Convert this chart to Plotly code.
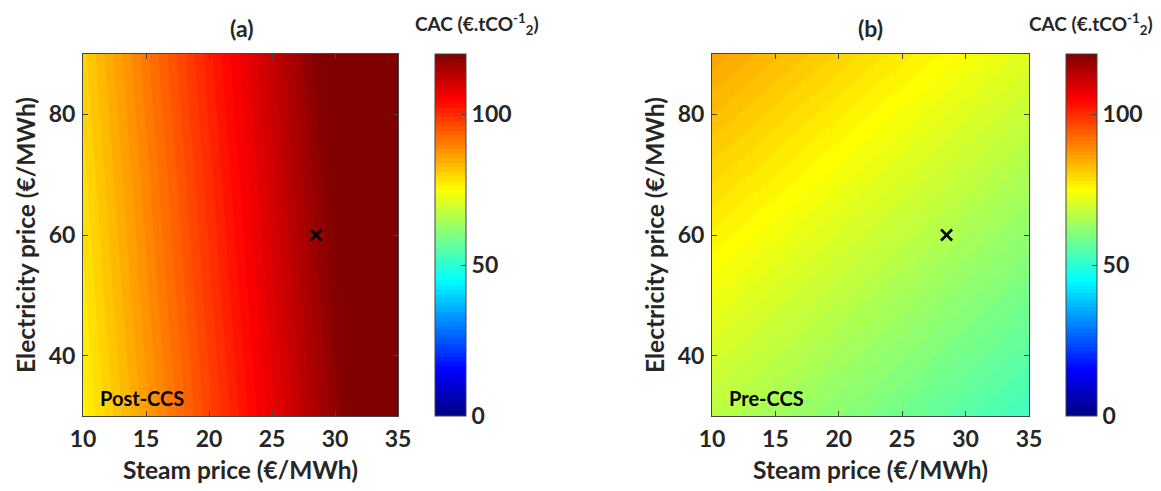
import plotly.graph_objects as go

# ---- data ----
steam = [10, 15, 20, 25, 30, 35]            # Steam price (€/MWh)
elec = [30, 40, 50, 60, 70, 80, 90]         # Electricity price (€/MWh)

cac_post = [
    [76.0, 86.5, 97.0, 107.5, 118.0, 128.5],
    [76.7, 87.2, 97.7, 108.2, 118.7, 129.2],
    [77.5, 88.0, 98.5, 109.0, 119.5, 130.0],
    [78.2, 88.7, 99.2, 109.7, 120.2, 130.7],
    [78.9, 89.4, 99.9, 110.4, 120.9, 131.4],
    [79.7, 90.2, 100.7, 111.2, 121.7, 132.2],
    [80.4, 90.9, 101.4, 111.9, 122.4, 132.9],
]
cac_pre = [
    [67.0, 64.1, 61.2, 58.3, 55.4, 52.5],
    [70.2, 67.3, 64.4, 61.5, 58.6, 55.7],
    [73.3, 70.4, 67.5, 64.6, 61.7, 58.8],
    [76.5, 73.6, 70.7, 67.8, 64.9, 62.0],
    [79.7, 76.8, 73.9, 71.0, 68.1, 65.2],
    [82.8, 79.9, 77.0, 74.1, 71.2, 68.3],
    [86.0, 83.1, 80.2, 77.3, 74.4, 71.5],
]
ref_steam = [28.5]
ref_elec = [60]
cbar_ticks = [0, 50, 100]
x_ticks = [10, 15, 20, 25, 30, 35]
y_ticks = [40, 60, 80]
panel_titles = ["(a)", "(b)"]
panel_labels = ["Post-CCS", "Pre-CCS"]

jet = [[0.0, "rgb(0,0,128)"], [0.125, "rgb(0,0,255)"], [0.375, "rgb(0,255,255)"],
       [0.625, "rgb(255,255,0)"], [0.875, "rgb(255,0,0)"], [1.0, "rgb(128,0,0)"]]

FONT = "Lato"
TXT = "#262626"
OFF = 8                      # page body margin of the html page
W, H = 1161 - OFF, 491 - OFF

def px_x(p):
    return (p - OFF) / W

def px_y(p):
    return 1 - (p - OFF) / H

ax_top, ax_bot = 54, 416
panels = [
    dict(x0=83, x1=398, cb=435, title_cx=241, cac_cx=477),
    dict(x0=712, x1=1029, cb=1066, title_cx=870, cac_cx=1091),
]

fig = go.Figure()
for i, (z, p) in enumerate(zip([cac_post, cac_pre], panels)):
    xa = "x" if i == 0 else "x2"
    ya = "y" if i == 0 else "y2"
    fig.add_trace(go.Contour(
        x=steam, y=elec, z=z, xaxis=xa, yaxis=ya,
        colorscale=jet, zmin=0, zmax=120, autocontour=False,
        contours=dict(start=0, end=120, size=1.5 if i == 0 else 1.2,
                      coloring="fill", showlines=False),
        line=dict(width=0),
        hoverinfo="skip",
        colorbar=dict(
            x=px_x(p["cb"]), xanchor="left", y=px_y(ax_bot), yanchor="bottom",
            len=(ax_bot - ax_top) / H, lenmode="fraction",
            thickness=31, thicknessmode="pixels",
            outlinewidth=1, outlinecolor="#444444",
            tickvals=cbar_ticks, ticks="inside", ticklen=5, tickcolor="#444444",
            tickfont=dict(family=FONT, size=23, color=TXT, weight="bold"),
            xpad=0, ypad=0,
        ),
    ))
    fig.add_trace(go.Scatter(
        x=ref_steam, y=ref_elec, mode="markers", xaxis=xa, yaxis=ya,
        marker=dict(symbol="x-thin", size=11, line=dict(width=2.6, color="black")),
        showlegend=False, hoverinfo="skip",
    ))
    fig.add_annotation(text=panel_titles[i], x=px_x(p["title_cx"]), y=px_y(28),
                       xref="paper", yref="paper", showarrow=False,
                       xanchor="center", yanchor="middle",
                       font=dict(family=FONT, size=23, color=TXT, weight="bold"))
    fig.add_annotation(text="CAC (€.tCO<sup>-1</sup><sub>2</sub>)",
                       x=px_x(p["cac_cx"]), y=px_y(24),
                       xref="paper", yref="paper", showarrow=False,
                       xanchor="center", yanchor="middle",
                       font=dict(family=FONT, size=19, color=TXT, weight="bold"))
    fig.add_annotation(text=panel_labels[i], x=11.2, y=33, xref=xa, yref=ya,
                       xanchor="left", yanchor="middle", showarrow=False,
                       font=dict(family=FONT, size=20, color="black", weight="bold"))

axis_common = dict(
    showline=True, linecolor="#444444", linewidth=1, mirror="ticks",
    ticks="inside", ticklen=5, tickcolor="#444444", showgrid=False, zeroline=False,
    automargin=False,
    tickfont=dict(family=FONT, size=23, color=TXT, weight="bold"),
)
title_font = dict(family=FONT, size=24.5, color=TXT, weight="bold")

for i, p in enumerate(panels):
    sx = "" if i == 0 else "2"
    fig.layout["xaxis" + sx] = dict(
        axis_common, domain=[px_x(p["x0"]), px_x(p["x1"])], range=[10, 35],
        tickvals=x_ticks, anchor="y" + sx, ticklabelstandoff=2,
        title=dict(text="Steam price (€/MWh)", font=title_font, standoff=11),
    )
    fig.layout["yaxis" + sx] = dict(
        axis_common, domain=[px_y(ax_bot), px_y(ax_top)], range=[30, 90],
        tickvals=y_ticks, anchor="x" + sx, ticklabelstandoff=2,
        title=dict(text="Electricity price (€/MWh)", font=title_font, standoff=6),
    )

fig.update_layout(
    width=W, height=H, margin=dict(l=0, r=0, t=0, b=0, autoexpand=False),
    paper_bgcolor="white", plot_bgcolor="white", showlegend=False,
)
fig.write_html("out.html")
